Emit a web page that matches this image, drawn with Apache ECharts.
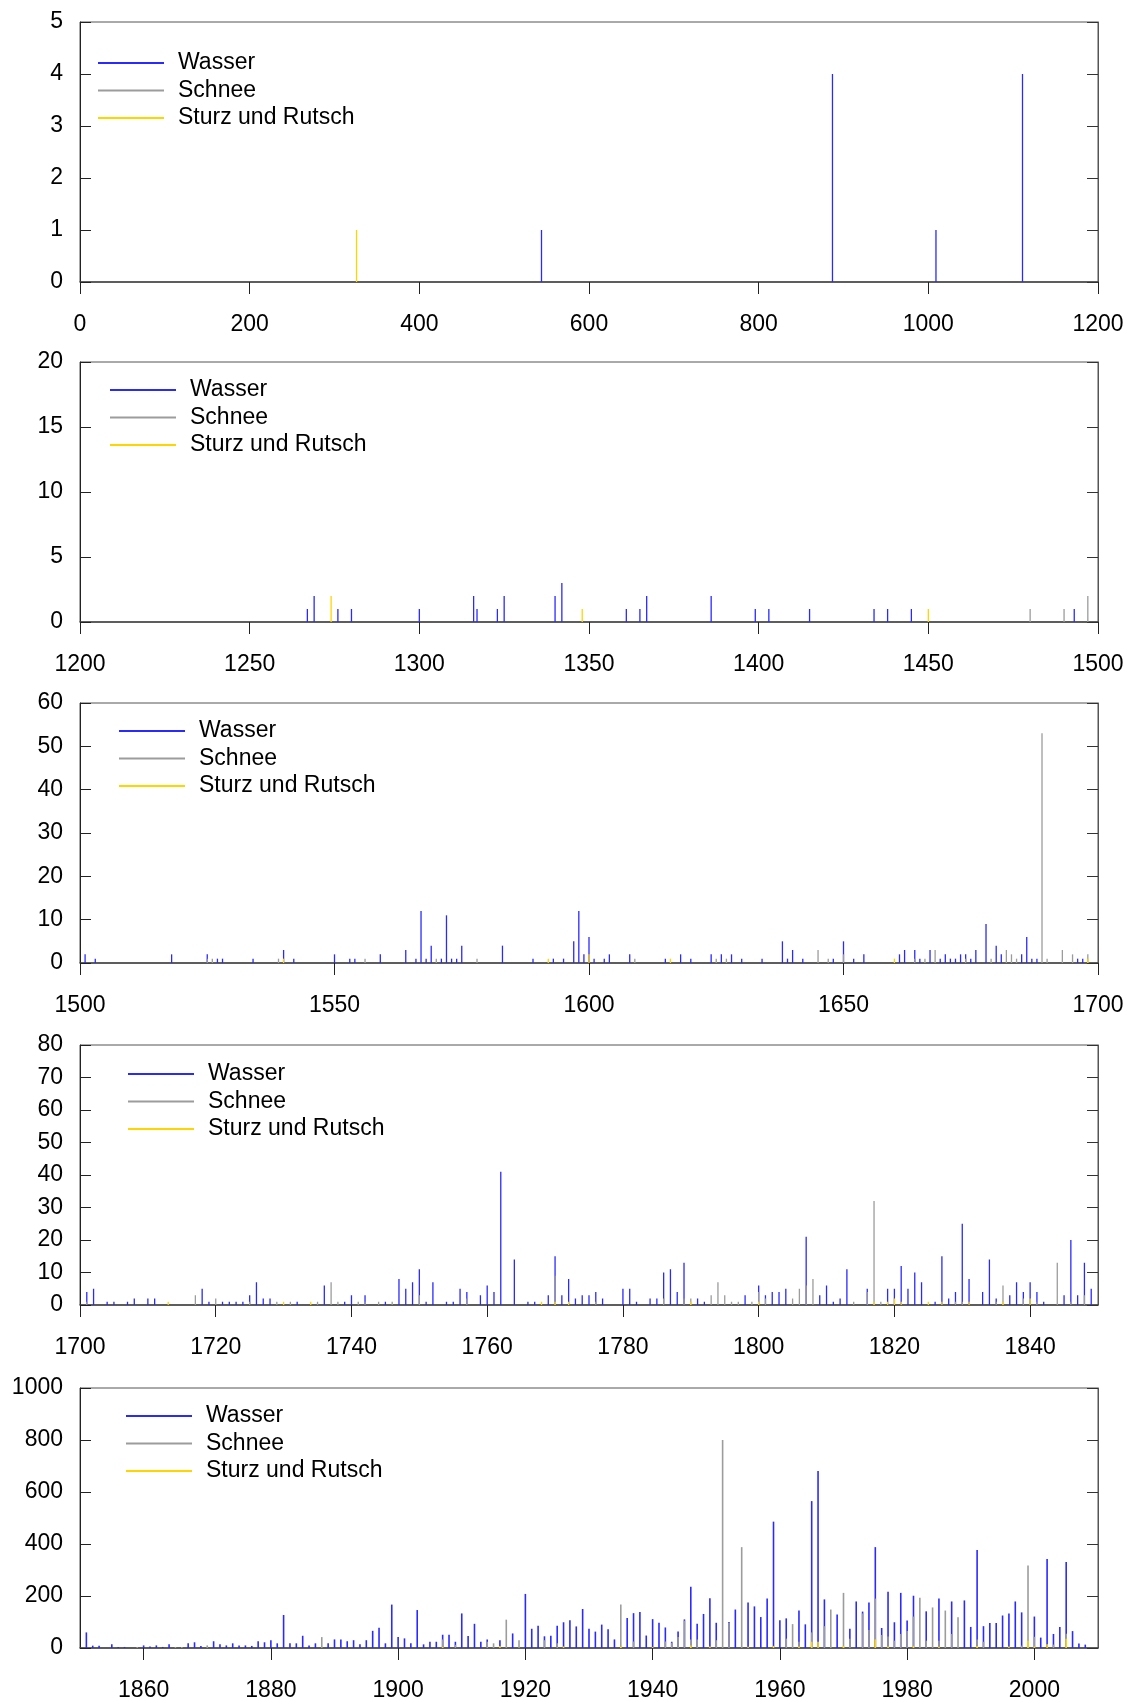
<!DOCTYPE html>
<html><head><meta charset="utf-8">
<script src="https://cdn.jsdelivr.net/npm/echarts@6/dist/echarts.min.js"></script>
<style>html,body{margin:0;padding:0;background:#fff}#c{width:1132px;height:1702px}</style>
</head><body><div id="c"></div>
<script>
const seriesNames = ['Wasser', 'Schnee', 'Sturz und Rutsch'];

// Panel 1: 0 - 1200
const p1Wasser = [[544,1],[887,4],[1009,1],[1111,4]];
const p1Schnee = [];
const p1Sturz = [[326,1]];

// Panel 2: 1200 - 1500
const p2Wasser = [[1267,1],[1269,2],[1276,1],[1280,1],[1300,1],[1316,2],[1317,1],[1323,1],[1325,2],[1340,2],[1342,3],[1361,1],[1365,1],[1367,2],[1386,2],[1399,1],[1403,1],[1415,1],[1434,1],[1438,1],[1445,1],[1493,1]];
const p2Schnee = [[1480,1],[1490,1],[1497,2]];
const p2Sturz = [[1274,2],[1348,1],[1450,1]];

// Panel 3: 1500 - 1700
const p3Wasser = [[1501,2],[1503,1],[1518,2],[1525,2],[1527,1],[1528,1],[1534,1],[1540,3],[1542,1],[1550,2],[1553,1],[1554,1],[1559,2],[1564,3],[1566,1],[1567,12],[1568,1],[1569,4],[1571,1],[1572,11],[1573,1],[1574,1],[1575,4],[1583,4],[1589,1],[1593,1],[1595,1],[1597,5],[1598,12],[1599,2],[1600,6],[1601,1],[1603,1],[1604,2],[1608,2],[1615,1],[1618,2],[1620,1],[1624,2],[1626,2],[1628,2],[1630,1],[1634,1],[1638,5],[1639,1],[1640,3],[1642,1],[1648,1],[1650,5],[1652,1],[1654,2],[1661,2],[1662,3],[1664,3],[1665,1],[1667,3],[1669,1],[1670,2],[1671,1],[1672,1],[1673,2],[1674,2],[1675,1],[1676,3],[1678,9],[1680,4],[1681,2],[1685,2],[1686,6],[1687,1],[1688,1],[1696,1],[1697,1]];
const p3Schnee = [[1525,1],[1526,1],[1539,1],[1556,1],[1570,1],[1578,1],[1609,1],[1625,1],[1627,1],[1645,3],[1647,1],[1650,2],[1664,1],[1666,1],[1668,3],[1674,1],[1679,1],[1682,3],[1683,2],[1684,1],[1689,53],[1690,1],[1693,3],[1695,2],[1698,2]];
const p3Sturz = [[1540,1],[1592,1],[1600,2],[1616,1],[1660,1],[1698,1]];

// Panel 4: 1700 - 1850
const p4Wasser = [[1701,4],[1702,5],[1704,1],[1705,1],[1707,1],[1708,2],[1710,2],[1711,2],[1718,5],[1719,1],[1721,1],[1722,1],[1723,1],[1724,1],[1725,3],[1726,7],[1727,2],[1728,2],[1732,1],[1736,6],[1739,1],[1740,3],[1742,3],[1745,1],[1747,8],[1748,5],[1749,7],[1750,11],[1751,1],[1752,7],[1754,1],[1755,1],[1756,5],[1757,4],[1759,3],[1760,6],[1761,4],[1762,41],[1764,14],[1766,1],[1767,1],[1769,3],[1770,15],[1771,3],[1772,8],[1773,2],[1774,3],[1775,3],[1776,4],[1777,2],[1780,5],[1781,5],[1782,1],[1784,2],[1785,2],[1786,10],[1787,11],[1788,4],[1789,13],[1791,2],[1792,1],[1798,3],[1800,6],[1801,3],[1802,4],[1803,4],[1804,5],[1807,21],[1809,3],[1810,6],[1811,1],[1812,2],[1813,11],[1816,5],[1819,5],[1820,5],[1821,12],[1822,5],[1823,10],[1824,7],[1826,1],[1827,15],[1828,2],[1829,4],[1830,25],[1831,8],[1833,4],[1834,14],[1835,2],[1837,3],[1838,7],[1839,4],[1840,7],[1841,4],[1842,1],[1845,3],[1846,20],[1847,3],[1848,13],[1849,5]];
const p4Schnee = [[1701,1],[1717,3],[1720,2],[1725,1],[1729,1],[1731,1],[1735,1],[1737,7],[1738,1],[1741,1],[1742,1],[1744,1],[1746,1],[1750,3],[1757,2],[1770,9],[1776,1],[1786,2],[1789,2],[1790,2],[1793,3],[1794,7],[1795,3],[1796,1],[1797,1],[1799,1],[1800,4],[1801,2],[1805,2],[1806,5],[1807,6],[1808,8],[1814,1],[1816,4],[1817,32],[1818,1],[1829,1],[1830,1],[1835,1],[1836,6],[1839,2],[1841,1],[1844,13],[1846,1],[1848,3]];
const p4Sturz = [[1713,1],[1730,1],[1734,1],[1768,1],[1770,1],[1772,1],[1790,1],[1800,1],[1817,1],[1819,1],[1820,2],[1821,1],[1825,1],[1827,1],[1831,1],[1836,1],[1840,2]];
const p4Ticks = [1700,1720,1740,1760,1780,1800,1820,1840];

// Panel 5: 1850 - 2010
const p5Wasser = [[1851,60],[1852,9],[1853,9],[1855,14],[1856,4],[1857,4],[1860,10],[1861,6],[1862,10],[1863,4],[1864,14],[1867,18],[1868,22],[1869,8],[1871,26],[1872,14],[1873,10],[1874,18],[1875,10],[1876,10],[1877,8],[1878,26],[1879,22],[1880,30],[1881,18],[1882,127],[1883,18],[1884,18],[1885,47],[1886,10],[1887,18],[1889,18],[1890,33],[1891,33],[1892,26],[1893,30],[1894,14],[1895,30],[1896,66],[1897,78],[1898,18],[1899,167],[1900,42],[1901,37],[1902,18],[1903,146],[1904,14],[1905,24],[1906,24],[1907,51],[1908,51],[1909,24],[1910,133],[1911,46],[1912,93],[1913,24],[1914,33],[1916,30],[1918,56],[1920,208],[1921,74],[1922,86],[1923,45],[1924,47],[1925,86],[1926,99],[1927,107],[1928,83],[1929,150],[1930,74],[1931,63],[1932,90],[1933,72],[1934,33],[1936,115],[1937,134],[1938,138],[1939,48],[1940,111],[1941,97],[1942,79],[1943,24],[1944,63],[1945,110],[1946,236],[1947,93],[1948,131],[1949,191],[1950,97],[1952,100],[1953,148],[1955,175],[1956,160],[1957,119],[1958,190],[1959,486],[1960,107],[1961,114],[1963,144],[1964,91],[1965,565],[1966,681],[1967,187],[1969,129],[1971,74],[1972,179],[1973,140],[1974,175],[1975,388],[1976,77],[1977,216],[1978,99],[1979,212],[1980,106],[1981,201],[1983,141],[1985,190],[1987,179],[1989,183],[1990,81],[1991,377],[1992,84],[1993,96],[1994,96],[1995,125],[1996,133],[1997,179],[1998,137],[2000,121],[2001,40],[2002,342],[2003,54],[2004,81],[2005,331],[2006,65],[2007,17],[2008,13]];
const p5Schnee = [[1859,4],[1865,4],[1866,4],[1870,10],[1888,42],[1907,33],[1909,12],[1914,24],[1915,18],[1917,109],[1919,30],[1923,30],[1925,18],[1935,167],[1937,25],[1942,25],[1943,20],[1944,42],[1945,105],[1946,33],[1947,33],[1950,30],[1951,800],[1952,97],[1954,388],[1961,36],[1962,92],[1963,24],[1965,60],[1967,84],[1968,148],[1970,212],[1971,36],[1973,133],[1974,69],[1975,190],[1976,50],[1977,44],[1978,28],[1979,54],[1980,65],[1981,121],[1982,193],[1983,28],[1984,156],[1985,28],[1986,144],[1987,54],[1988,118],[1991,33],[1992,24],[1998,9],[1999,317],[2000,43],[2003,13],[2005,55]];
const p5Sturz = [[1907,4],[1916,8],[1926,6],[1935,5],[1940,4],[1946,10],[1949,6],[1955,5],[1959,8],[1963,6],[1965,24],[1966,24],[1970,8],[1975,33],[1977,6],[1981,8],[1985,5],[1991,8],[1996,6],[1999,28],[2000,6],[2002,14],[2005,36]];
const p5Ticks = [1860,1880,1900,1920,1940,1960,1980,2000];

const panels = [
  {w:p1Wasser, s:p1Schnee, r:p1Sturz, xmin:0, xmax:1200, xint:200, ymax:5, yint:1, top:22, lgLeft:98, lgTop:51, bw:1.3},
  {w:p2Wasser, s:p2Schnee, r:p2Sturz, xmin:1200, xmax:1500, xint:50, ymax:20, yint:5, top:362, lgLeft:110, lgTop:378, bw:1.3},
  {w:p3Wasser, s:p3Schnee, r:p3Sturz, xmin:1500, xmax:1700, xint:50, ymax:60, yint:10, top:703, lgLeft:119, lgTop:719, bw:1.3},
  {w:p4Wasser, s:p4Schnee, r:p4Sturz, xmin:1700, xmax:1850, xint:20, ymax:80, yint:10, top:1045, lgLeft:128, lgTop:1062, bw:1.3, ticks:p4Ticks},
  {w:p5Wasser, s:p5Schnee, r:p5Sturz, xmin:1850, xmax:2010, xint:10, ymax:1000, yint:200, top:1388, lgLeft:126, lgTop:1404, bw:1.6, ticks:p5Ticks}
];

const FONT = "'Liberation Sans', Arial, sans-serif";
const colors = ['#2a2aff', '#9c9c9c', '#ffd500'];
const plain = v => String(v);

const grid = [], xAxis = [], yAxis = [], series = [], legend = [];
panels.forEach((p, i) => {
  grid.push({left:80, right:34, top:p.top, height:260, show:true, borderColor:'#555', borderWidth:1, backgroundColor:'#fff'});
  const xa = {
    type:'value', gridIndex:i, min:p.xmin, max:p.xmax, interval:p.xint,
    axisLine:{show:true, onZero:false, lineStyle:{color:'#444', width:1.5}},
    axisTick:{show:true, inside:false, length:12, lineStyle:{color:'#222', width:1}},
    axisLabel:{fontSize:23, color:'#000', margin:31, fontFamily:FONT, formatter:plain},
    splitLine:{show:false}
  };
  if (p.ticks) {
    xa.axisTick.customValues = p.ticks;
    xa.axisLabel.customValues = p.ticks;
  }
  xAxis.push(xa);
  yAxis.push({
    type:'value', gridIndex:i, min:0, max:p.ymax, interval:p.yint, position:'left',
    axisLine:{show:true, onZero:false, lineStyle:{color:'#222', width:1}},
    axisTick:{show:true, inside:true, length:11, lineStyle:{color:'#222', width:1}},
    axisLabel:{fontSize:23, color:'#000', margin:17, fontFamily:FONT, formatter:plain},
    splitLine:{show:false}
  });
  yAxis.push({
    type:'value', gridIndex:i, min:0, max:p.ymax, interval:p.yint, position:'right',
    axisLine:{show:true, onZero:false, lineStyle:{color:'#555', width:1}},
    axisTick:{show:true, inside:true, length:11, lineStyle:{color:'#333', width:1}},
    axisLabel:{show:false},
    splitLine:{show:false}
  });
  [p.w, p.s, p.r].forEach((d, k) => {
    series.push({
      name:seriesNames[k], type:'bar', xAxisIndex:i, yAxisIndex:2*i,
      data:d, barWidth:p.bw, barGap:'-100%', z:2+k,
      itemStyle:{color:colors[k]}, silent:true, animation:false
    });
  });
  legend.push({
    data:seriesNames, orient:'vertical', left:p.lgLeft, top:p.lgTop, padding:0,
    icon:'rect', itemWidth:66, itemHeight:2, itemGap:3.5, selectedMode:false,
    textStyle:{fontSize:23, color:'#000', fontFamily:FONT, lineHeight:24, padding:[0,0,0,9]}
  });
});

const chart = echarts.init(document.getElementById('c'), null, {renderer:'canvas'});
chart.setOption({animation:false, backgroundColor:'#fff', grid, xAxis, yAxis, series, legend});
</script>
</body></html>
